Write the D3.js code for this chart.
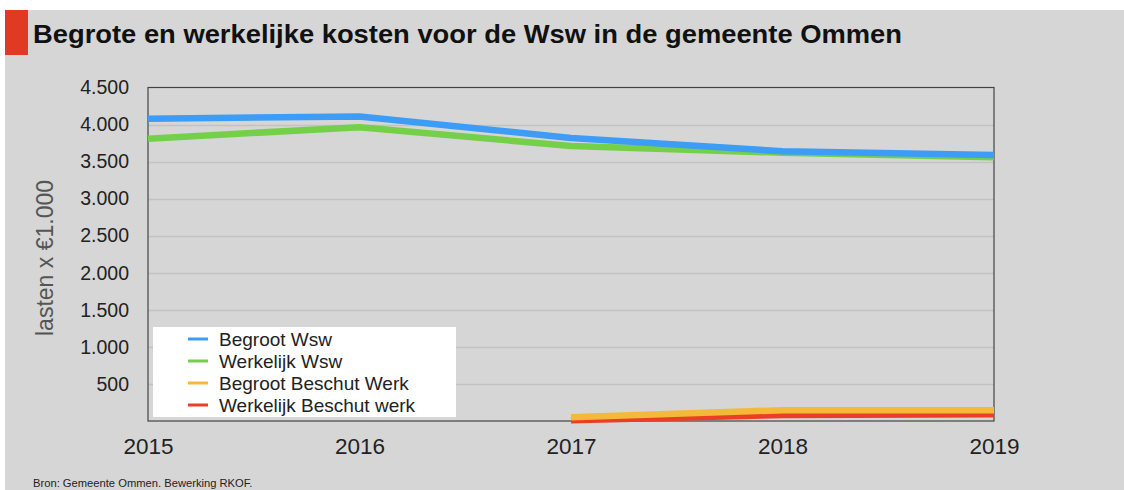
<!DOCTYPE html>
<html><head><meta charset="utf-8">
<script src="https://cdn.jsdelivr.net/npm/d3@7"></script>
<style>body{margin:0;background:#fff}svg{display:block}</style>
</head><body>
<svg id="c" width="1124" height="490"></svg>
<script>
const years = [2015, 2016, 2017, 2018, 2019];
const begrootWsw = [4080, 4110, 3820, 3640, 3590];
const werkelijkWsw = [3810, 3965, 3710, 3620, 3560];
const begrootBW = [null, null, 50, 145, 145];
const werkelijkBW = [null, null, 10, 80, 90];
const yTicks = [500, 1000, 1500, 2000, 2500, 3000, 3500, 4000, 4500];
const seriesNames = ["Begroot Wsw", "Werkelijk Wsw", "Begroot Beschut Werk", "Werkelijk Beschut werk"];
const seriesColors = ["#3d9cf5", "#74d048", "#f4b93b", "#ea3f26"];
const title = "Begrote en werkelijke kosten voor de Wsw in de gemeente Ommen";
const yTitle = "lasten x €1.000";
const source = "Bron: Gemeente Ommen. Bewerking RKOF.";

const svg = d3.select("#c");
const font = "'Liberation Sans', Arial, Helvetica, sans-serif";
svg.append("rect").attr("x",0).attr("y",0).attr("width",1124).attr("height",490).attr("fill","#ffffff");
svg.append("rect").attr("x",5).attr("y",10).attr("width",1119).attr("height",480).attr("fill","#d6d6d6");
svg.append("rect").attr("x",5).attr("y",10).attr("width",23).attr("height",45).attr("fill","#e03a23");
svg.append("text").attr("x",33).attr("y",43).attr("font-family",font).attr("font-weight","bold")
  .attr("font-size",25).attr("fill","#111").attr("textLength",869).attr("lengthAdjust","spacingAndGlyphs").text(title);

const x = d3.scaleLinear().domain([2015, 2019]).range([148, 994]);
const y = d3.scaleLinear().domain([0, 4500]).range([421, 87.5]);

// gridlines
svg.append("g").selectAll("line").data(yTicks.slice(0,-1)).join("line")
  .attr("x1",148).attr("x2",994).attr("y1",d=>Math.round(y(d))+0.5).attr("y2",d=>Math.round(y(d))+0.5)
  .attr("stroke","#c2c2c2").attr("stroke-width",1.5);

// y axis tick labels
const yAxis = d3.axisLeft(y).tickValues(yTicks).tickSize(0).tickPadding(19)
  .tickFormat(d => d3.format(",")(d).replace(/,/g, "."));
const gy = svg.append("g").attr("transform","translate(148,0)").call(yAxis);
gy.select(".domain").remove();
gy.selectAll("text").attr("font-family",font).attr("font-size",19.5).attr("fill","#222");

// x axis labels
const xAxis = d3.axisBottom(x).tickValues(years).tickSize(0).tickPadding(17).tickFormat(d3.format("d"));
const gx = svg.append("g").attr("transform","translate(0,421)").call(xAxis);
gx.select(".domain").remove();
gx.selectAll("text").attr("font-family",font).attr("font-size",22.5).attr("fill","#222");

// frame
svg.append("rect").attr("x",148).attr("y",87.5).attr("width",846).attr("height",333.5)
  .attr("fill","none").attr("stroke","#444").attr("stroke-width",1.2);

// lines
const line = d3.line().defined(d => d[1] != null).x(d => x(d[0])).y(d => y(d[1]));
const order = [
  [werkelijkWsw, 1], [begrootWsw, 0], [werkelijkBW, 3], [begrootBW, 2]
];
order.forEach(([vals, ci]) => {
  svg.append("path").datum(years.map((yr,i)=>[yr, vals[i]]))
    .attr("d", line).attr("fill","none").attr("stroke", seriesColors[ci])
    .attr("stroke-width", 6.5).attr("stroke-linejoin","round");
});

// legend
const lg = svg.append("g");
lg.append("rect").attr("x",153).attr("y",327).attr("width",303).attr("height",90).attr("fill","#fff");
seriesNames.forEach((n,i) => {
  const yy = 339 + i*22;
  lg.append("line").attr("x1",188).attr("x2",208).attr("y1",yy).attr("y2",yy)
    .attr("stroke",seriesColors[i]).attr("stroke-width",3);
  lg.append("text").attr("x",219).attr("y",yy+6.5).attr("font-family",font).attr("font-size",19)
    .attr("fill","#222").text(n);
});

// y title
svg.append("text").attr("transform","translate(53,258) rotate(-90)").attr("text-anchor","middle")
  .attr("font-family",font).attr("font-weight",300).attr("font-size",23).attr("fill","#555").text(yTitle);

// source
svg.append("text").attr("x",33).attr("y",487).attr("font-family",font).attr("font-size",11.2)
  .attr("fill","#222").text(source);
</script>
</body></html>
